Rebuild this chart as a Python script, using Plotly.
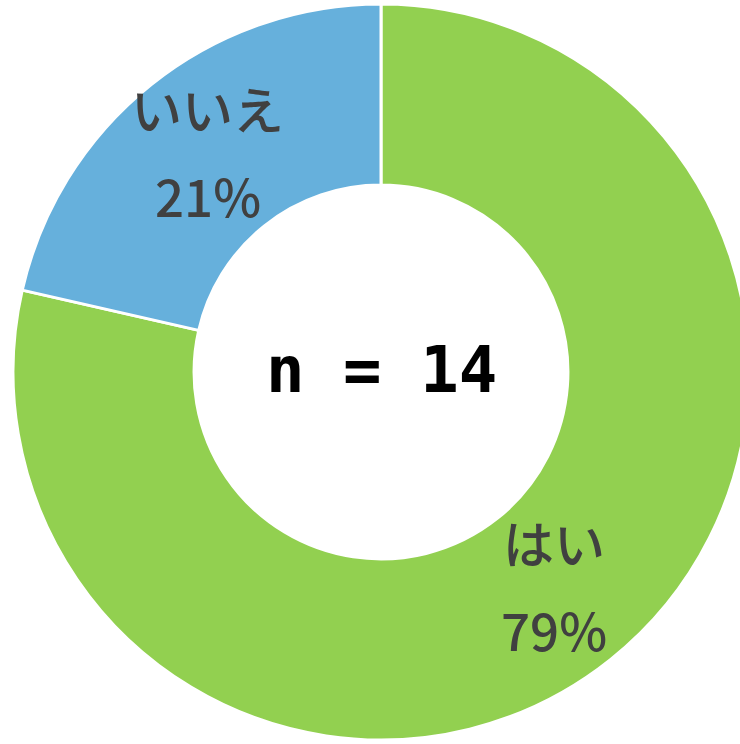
import math
import plotly.graph_objects as go

labels = ["はい", "いいえ"]
counts = [11, 3]
colors = ["#92D050", "#66B0DC"]
center_text = "n = 14"

HOLE = 0.508
text_font = dict(family="Noto Sans CJK JP", size=51, color="#404040", weight=500)

fig = go.Figure(
    go.Pie(
        labels=labels,
        values=counts,
        sort=False,
        direction="clockwise",
        rotation=0,
        hole=HOLE,
        marker=dict(colors=colors, line=dict(color="white", width=3)),
        textinfo="none",
        showlegend=False,
        hoverinfo="skip",
    )
)

# label positions derived from the data: mid-angle of each slice, mid-radius of the ring
total = sum(counts)
cum = 0
annotations = []
for lab, v in zip(labels, counts):
    frac_mid = (cum + v / 2) / total
    cum += v
    ang = 2 * math.pi * frac_mid
    rr = (HOLE + 1) / 2 * 0.5
    px = 0.5 + rr * math.sin(ang)
    py = 0.5 + rr * math.cos(ang)
    pct = f"{round(100 * v / total)}%"
    annotations.append(dict(x=px, y=py, xref="paper", yref="paper", text=lab,
                            showarrow=False, font=text_font, yshift=47,
                            xanchor="center", yanchor="middle"))
    annotations.append(dict(x=px, y=py, xref="paper", yref="paper", text=pct,
                            showarrow=False, font=text_font, yshift=-40,
                            xanchor="center", yanchor="middle"))

annotations.append(dict(x=0.5, y=0.5, xref="paper", yref="paper",
                        text="<b>" + center_text + "</b>", showarrow=False,
                        font=dict(family="DejaVu Sans Mono", size=64, color="black"),
                        xanchor="center", yanchor="middle", yshift=2))

fig.update_layout(
    width=749,
    height=744,
    margin=dict(l=13, r=0, t=4, b=4),
    paper_bgcolor="white",
    plot_bgcolor="white",
    annotations=annotations,
)

fig.write_html(
    "out.html",
    post_script="document.body.style.overflow='hidden';document.documentElement.style.overflow='hidden';",
)
